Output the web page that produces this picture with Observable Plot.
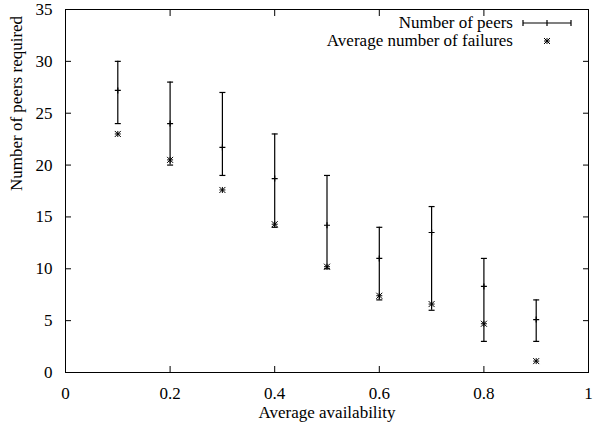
<!DOCTYPE html>
<html>
<head>
<meta charset="utf-8">
<script src="https://cdn.jsdelivr.net/npm/d3@7"></script>
<script src="https://cdn.jsdelivr.net/npm/@observablehq/plot@0.6"></script>
<style>
  html, body { margin: 0; padding: 0; background: #fff; }
  #chart svg { display: block; }
  #chart svg, #chart svg text { font-family: "Liberation Serif", serif !important; }
</style>
</head>
<body>
<div id="chart"></div>
<script>
// ---- data ----
const availability = [0.1, 0.2, 0.3, 0.4, 0.5, 0.6, 0.7, 0.8, 0.9];
const peersMean    = [27.2, 24.0, 21.7, 18.7, 14.2, 11.0, 13.5, 8.3, 5.1];
const peersMin     = [24, 20, 19, 14, 10, 7, 6, 3, 3];
const peersMax     = [30, 28, 27, 23, 19, 14, 16, 11, 7];
const failures     = [23.0, 20.5, 17.6, 14.3, 10.2, 7.4, 6.6, 4.7, 1.1];

const xTicks = [0, 0.2, 0.4, 0.6, 0.8, 1];
const yTicks = [0, 5, 10, 15, 20, 25, 30, 35];
const xLabel = "Average availability";
const yLabel = "Number of peers required";
const seriesNames = ["Number of peers", "Average number of failures"];

const rows = availability.map((a, i) => ({
  a, mean: peersMean[i], lo: peersMin[i], hi: peersMax[i], fail: failures[i]
}));

// custom stroke symbols (radius derived from size)
const rad = size => Math.sqrt(size / Math.PI);
const capSym = {draw(ctx, size) { const r = rad(size); ctx.moveTo(-r, 0); ctx.lineTo(r, 0); }};
const plusSym = {draw(ctx, size) { const r = rad(size); ctx.moveTo(-r, 0); ctx.lineTo(r, 0); ctx.moveTo(0, -r); ctx.lineTo(0, r); }};
const starSym = {draw(ctx, size) {
  const r = rad(size);
  ctx.moveTo(-r, 0); ctx.lineTo(r, 0); ctx.moveTo(0, -r); ctx.lineTo(0, r);
  ctx.moveTo(-r, -r); ctx.lineTo(r, r); ctx.moveTo(-r, r); ctx.lineTo(r, -r);
}};

const font = "Liberation Serif";
const fs = 17;

const chart = Plot.plot({
  width: 594,
  height: 432,
  marginLeft: 65,
  marginRight: 6,
  marginTop: 9,
  marginBottom: 60,
  style: {fontFamily: font, fontSize: fs + "px", background: "#fff", color: "#000"},
  x: {domain: [0, 1]},
  y: {domain: [0, 35]},
  marks: [
    Plot.frame({stroke: "#000", strokeWidth: 1}),
    Plot.axisX({anchor: "bottom", ticks: xTicks, tickFormat: d => String(d), tickSize: -6, tickPadding: 20, label: null, stroke: "#000", fontSize: fs}),
    Plot.axisX({anchor: "top", ticks: xTicks, tickFormat: () => "", tickSize: -6, label: null, stroke: "#000"}),
    Plot.axisY({anchor: "left", ticks: yTicks, tickFormat: d => String(d), tickSize: -6, tickPadding: 19, label: null, stroke: "#000", fontSize: fs}),
    Plot.axisY({anchor: "right", ticks: yTicks, tickFormat: () => "", tickSize: -6, label: null, stroke: "#000"}),
    Plot.text([xLabel], {frameAnchor: "bottom", dy: 45, fontSize: fs}),
    Plot.text([yLabel], {frameAnchor: "left", dx: -49, rotate: -90, fontSize: fs}),
    Plot.ruleX(rows, {x: "a", y1: "lo", y2: "hi", stroke: "#000", strokeWidth: 1.2}),
    Plot.dot(rows, {x: "a", y: "hi", symbol: capSym, r: 3, stroke: "#000", fill: "none", strokeWidth: 1.2}),
    Plot.dot(rows, {x: "a", y: "lo", symbol: capSym, r: 3, stroke: "#000", fill: "none", strokeWidth: 1.2}),
    Plot.dot(rows, {x: "a", y: "mean", symbol: plusSym, r: 3, stroke: "#000", fill: "none", strokeWidth: 1.2}),
    Plot.dot(rows, {x: "a", y: "fail", symbol: starSym, r: 3, stroke: "#000", fill: "none", strokeWidth: 1})
  ]
});

document.getElementById("chart").appendChild(chart);

// legend (top-right, inside frame)
const svg = d3.select(chart);
const lg = svg.append("g").attr("font-family", font).attr("font-size", fs).attr("fill", "#000");
const tx = 513, sx1 = 523, sx2 = 571, sxm = 547, y1 = 23, y2 = 41;
lg.append("text").attr("x", tx).attr("y", 28).attr("text-anchor", "end").text(seriesNames[0]);
lg.append("text").attr("x", tx).attr("y", 46).attr("text-anchor", "end").text(seriesNames[1]);
const p = d3.path();
p.moveTo(sx1, y1); p.lineTo(sx2, y1);
p.moveTo(sx1, y1 - 3); p.lineTo(sx1, y1 + 3);
p.moveTo(sx2, y1 - 3); p.lineTo(sx2, y1 + 3);
p.moveTo(sxm, y1 - 3); p.lineTo(sxm, y1 + 3);
lg.append("path").attr("d", p.toString()).attr("stroke", "#000").attr("stroke-width", 1.2).attr("fill", "none");
const q = d3.path();
starSym.draw(q, 9 * Math.PI);
lg.append("path").attr("d", q.toString()).attr("transform", `translate(${sxm},${y2})`).attr("stroke", "#000").attr("stroke-width", 1).attr("fill", "none");
</script>
</body>
</html>
